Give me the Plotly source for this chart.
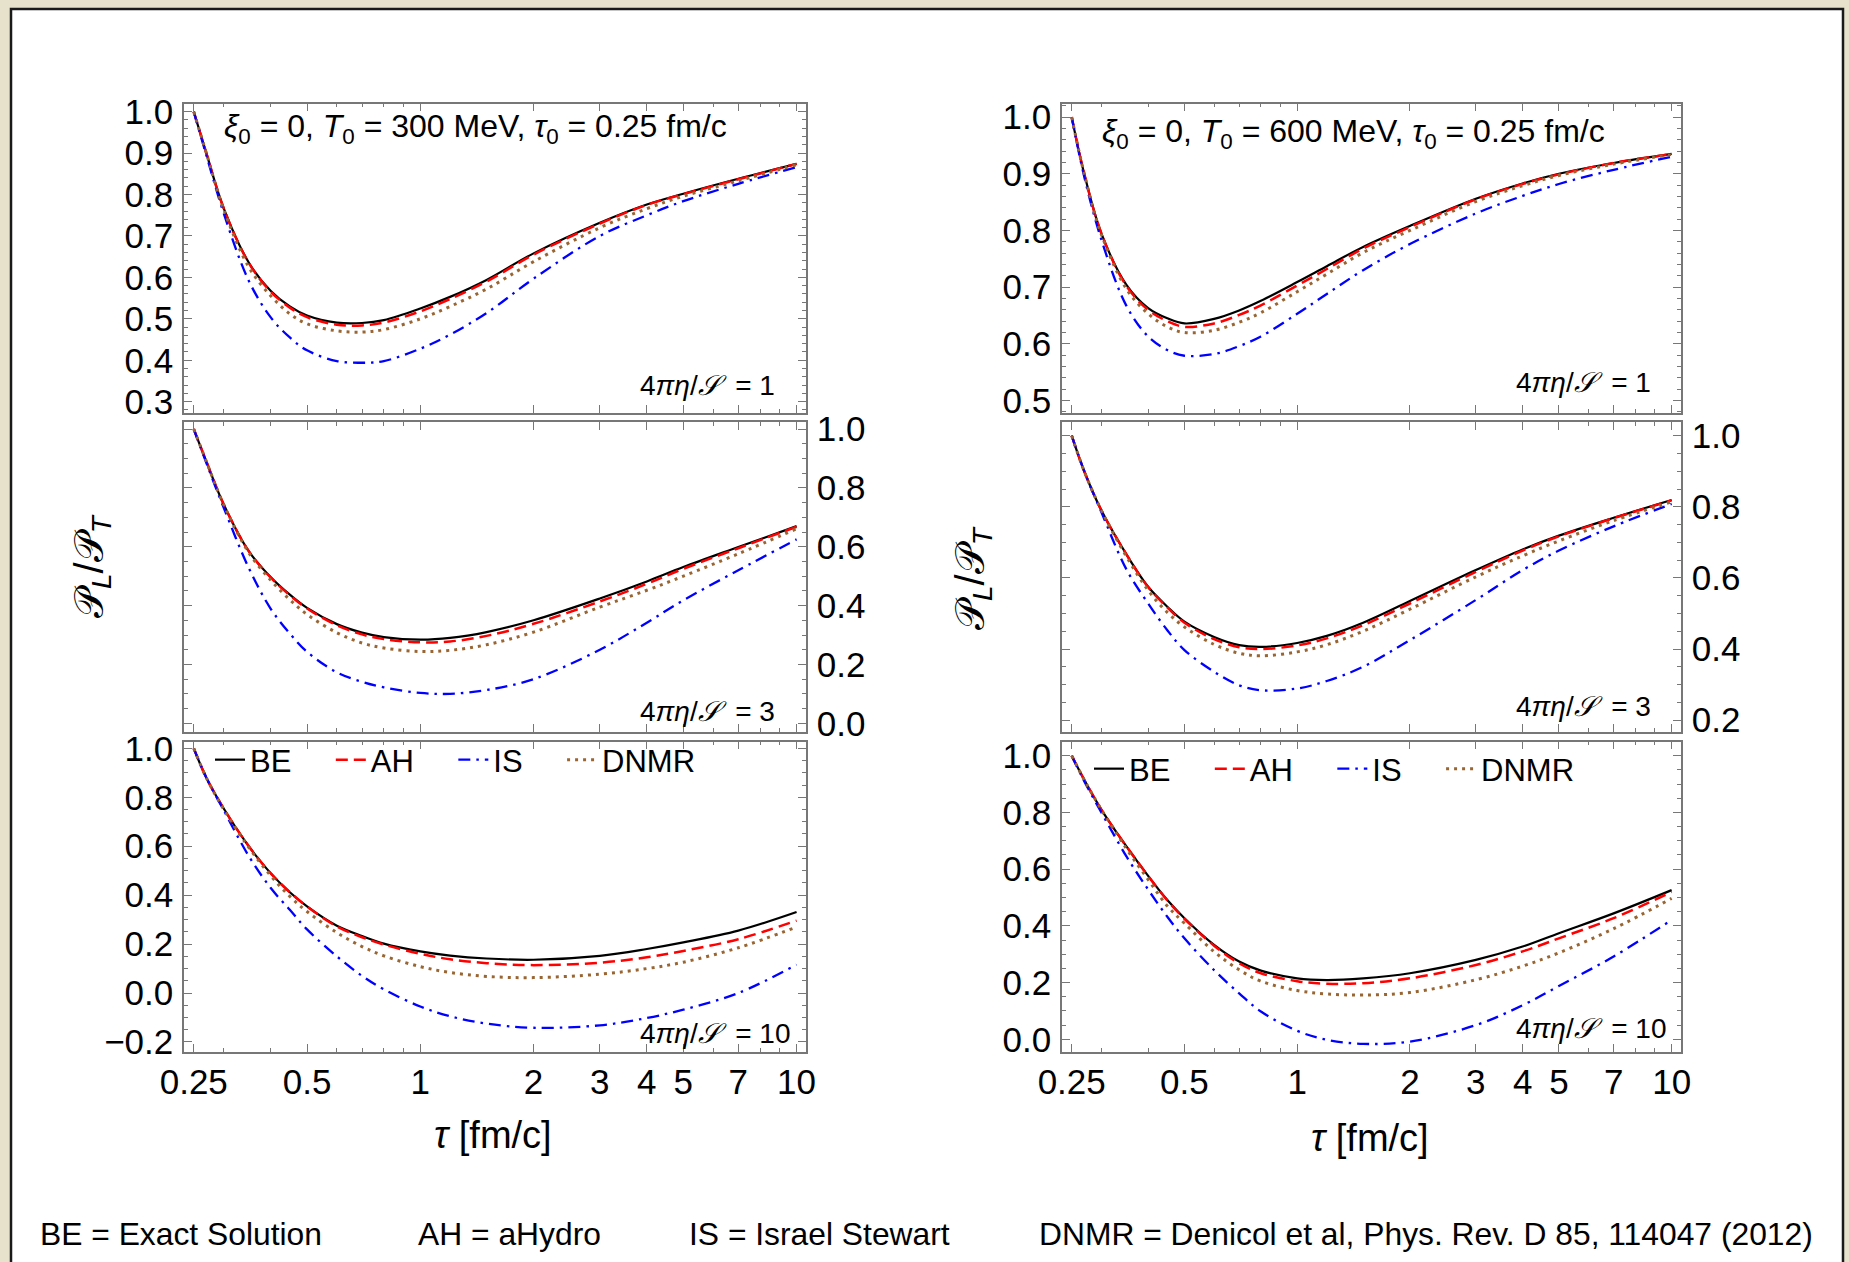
import plotly.graph_objects as go

W, H = 1849, 1262
FONT = "Liberation Sans"

# ---------------- data ----------------
tau = [0.25, 0.27, 0.3, 0.35, 0.4, 0.45, 0.5, 0.6, 0.7, 0.8, 1.0, 1.2, 1.5, 2.0, 3.0, 4.0, 5.0, 7.0, 10.0]

# T0 = 300 MeV, 4 pi eta/S = 1
BE_300_1 = [1.0, 0.90, 0.768, 0.636, 0.568, 0.530, 0.508, 0.491, 0.490, 0.497, 0.525, 0.553, 0.594, 0.658, 0.732, 0.776, 0.802, 0.838, 0.874]
AH_300_1 = [1.0, 0.90, 0.768, 0.635, 0.566, 0.527, 0.504, 0.486, 0.484, 0.491, 0.518, 0.548, 0.590, 0.655, 0.730, 0.775, 0.801, 0.837, 0.874]
IS_300_1 = [1.0, 0.895, 0.756, 0.592, 0.504, 0.455, 0.424, 0.398, 0.394, 0.398, 0.428, 0.462, 0.514, 0.597, 0.700, 0.750, 0.784, 0.826, 0.866]
DN_300_1 = [1.0, 0.90, 0.765, 0.625, 0.556, 0.512, 0.488, 0.471, 0.468, 0.474, 0.500, 0.530, 0.572, 0.638, 0.720, 0.766, 0.796, 0.833, 0.872]

# T0 = 300 MeV, 4 pi eta/S = 3
BE_300_3 = [1.0, 0.89, 0.745, 0.585, 0.497, 0.437, 0.392, 0.337, 0.308, 0.293, 0.284, 0.290, 0.310, 0.350, 0.424, 0.482, 0.531, 0.599, 0.670]
AH_300_3 = [1.0, 0.89, 0.745, 0.585, 0.496, 0.435, 0.390, 0.333, 0.302, 0.286, 0.275, 0.278, 0.297, 0.338, 0.414, 0.474, 0.525, 0.595, 0.668]
IS_300_3 = [1.0, 0.885, 0.734, 0.528, 0.390, 0.305, 0.243, 0.173, 0.141, 0.122, 0.103, 0.100, 0.113, 0.150, 0.250, 0.342, 0.418, 0.520, 0.625]
DN_300_3 = [1.0, 0.89, 0.744, 0.580, 0.487, 0.420, 0.370, 0.308, 0.273, 0.256, 0.244, 0.248, 0.267, 0.310, 0.395, 0.452, 0.500, 0.576, 0.661]

# T0 = 300 MeV, 4 pi eta/S = 10
BE_300_10 = [1.0, 0.88, 0.755, 0.600, 0.490, 0.412, 0.354, 0.275, 0.233, 0.202, 0.170, 0.153, 0.141, 0.136, 0.152, 0.180, 0.207, 0.255, 0.331]
AH_300_10 = [1.0, 0.88, 0.755, 0.600, 0.490, 0.412, 0.354, 0.272, 0.228, 0.198, 0.160, 0.138, 0.122, 0.114, 0.124, 0.146, 0.172, 0.220, 0.296]
IS_300_10 = [1.0, 0.88, 0.748, 0.560, 0.430, 0.340, 0.260, 0.150, 0.070, 0.015, -0.055, -0.095, -0.125, -0.142, -0.132, -0.102, -0.068, 0.0, 0.116]
DN_300_10 = [1.0, 0.88, 0.752, 0.595, 0.480, 0.395, 0.333, 0.247, 0.190, 0.152, 0.108, 0.084, 0.068, 0.063, 0.077, 0.100, 0.126, 0.185, 0.270]

# T0 = 600 MeV, 4 pi eta/S = 1
BE_600_1 = [1.0, 0.90, 0.795, 0.704, 0.663, 0.645, 0.636, 0.644, 0.659, 0.676, 0.709, 0.737, 0.771, 0.808, 0.856, 0.883, 0.900, 0.919, 0.935]
AH_600_1 = [1.0, 0.90, 0.795, 0.702, 0.660, 0.640, 0.630, 0.636, 0.651, 0.668, 0.703, 0.732, 0.768, 0.806, 0.855, 0.882, 0.899, 0.919, 0.935]
IS_600_1 = [1.0, 0.895, 0.784, 0.667, 0.613, 0.589, 0.579, 0.582, 0.596, 0.613, 0.653, 0.688, 0.730, 0.776, 0.830, 0.861, 0.882, 0.907, 0.930]
DN_600_1 = [1.0, 0.90, 0.793, 0.697, 0.653, 0.630, 0.620, 0.624, 0.638, 0.655, 0.692, 0.723, 0.761, 0.800, 0.851, 0.879, 0.897, 0.917, 0.934]

# T0 = 600 MeV, 4 pi eta/S = 3
BE_600_3 = [1.0, 0.90, 0.79, 0.666, 0.575, 0.519, 0.477, 0.434, 0.411, 0.406, 0.417, 0.437, 0.474, 0.535, 0.622, 0.680, 0.719, 0.769, 0.819]
AH_600_3 = [1.0, 0.90, 0.79, 0.666, 0.574, 0.517, 0.474, 0.428, 0.405, 0.400, 0.410, 0.430, 0.467, 0.528, 0.617, 0.677, 0.717, 0.768, 0.818]
IS_600_3 = [1.0, 0.90, 0.785, 0.624, 0.528, 0.453, 0.397, 0.336, 0.298, 0.284, 0.289, 0.310, 0.350, 0.425, 0.538, 0.622, 0.677, 0.745, 0.808]
DN_600_3 = [1.0, 0.90, 0.79, 0.660, 0.565, 0.503, 0.462, 0.413, 0.388, 0.381, 0.392, 0.412, 0.450, 0.512, 0.603, 0.662, 0.704, 0.761, 0.814]

# T0 = 600 MeV, 4 pi eta/S = 10
BE_600_10 = [1.0, 0.915, 0.81, 0.680, 0.576, 0.491, 0.427, 0.333, 0.274, 0.242, 0.215, 0.209, 0.215, 0.233, 0.280, 0.327, 0.374, 0.444, 0.526]
AH_600_10 = [1.0, 0.915, 0.81, 0.680, 0.576, 0.490, 0.425, 0.330, 0.268, 0.233, 0.205, 0.196, 0.198, 0.215, 0.262, 0.310, 0.356, 0.427, 0.520]
IS_600_10 = [1.0, 0.91, 0.800, 0.645, 0.528, 0.432, 0.356, 0.244, 0.162, 0.098, 0.030, -0.002, -0.016, -0.008, 0.050, 0.120, 0.188, 0.292, 0.421]
DN_600_10 = [1.0, 0.915, 0.81, 0.672, 0.563, 0.470, 0.409, 0.309, 0.245, 0.205, 0.172, 0.160, 0.156, 0.165, 0.210, 0.258, 0.305, 0.390, 0.497]

series_names = ["BE", "AH", "IS", "DNMR"]
legend_labels = ["BE\u00a0\u00a0\u00a0\u00a0", "AH\u00a0\u00a0\u00a0\u00a0", "IS\u00a0\u00a0\u00a0\u00a0", "DNMR"]
x_major = [0.25, 0.5, 1, 2, 3, 4, 5, 7, 10]
x_major_text = ["0.25", "0.5", "1", "2", "3", "4", "5", "7", "10"]
x_minor = [0.3, 0.4, 0.6, 0.7, 0.8, 0.9, 6, 8, 9]

# panel grid: (column, row) -> series
panels = [
    (0, 0, [BE_300_1, AH_300_1, IS_300_1, DN_300_1], "1"),
    (0, 1, [BE_300_3, AH_300_3, IS_300_3, DN_300_3], "3"),
    (0, 2, [BE_300_10, AH_300_10, IS_300_10, DN_300_10], "10"),
    (1, 0, [BE_600_1, AH_600_1, IS_600_1, DN_600_1], "1"),
    (1, 1, [BE_600_3, AH_600_3, IS_600_3, DN_600_3], "3"),
    (1, 2, [BE_600_10, AH_600_10, IS_600_10, DN_600_10], "10"),
]

y_ranges = {
    (0, 0): [0.2727, 1.0198], (0, 1): [-0.028, 1.024], (0, 2): [-0.239, 1.028],
    (1, 0): [0.478, 1.024], (1, 1): [0.168, 1.0385], (1, 2): [-0.043, 1.05],
}

# ---------------- styling ----------------
styles = {
    "BE": dict(color="#000000", dash="solid", width=2.2),
    "AH": dict(color="#FF0000", dash="12px,6px", width=2.5),
    "IS": dict(color="#0000FF", dash="12px,6px,2.5px,6px", width=2.3),
    "DNMR": dict(color="#996633", dash="3px,5px", width=3.0),
}

col_px = [(184, 806), (1062, 1681)]
row_px = [(103.5, 413), (422, 731.5), (741.5, 1051.5)]
FRAME = "#777777"


def px_x(p):
    return p / W


def px_y(p):
    return 1 - p / H


fig = go.Figure()
layout = dict()

for i, (c, r, ys, eta) in enumerate(panels):
    n = i + 1
    xa = "x" if n == 1 else f"x{n}"
    ya = "y" if n == 1 else f"y{n}"
    legend_name = None
    if r == 2:
        legend_name = "legend" if c == 0 else "legend2"
    for name, lab, yv in zip(series_names, legend_labels, ys):
        st = styles[name]
        fig.add_trace(go.Scatter(
            x=tau, y=yv, mode="lines", name=lab,
            line=dict(color=st["color"], dash=st["dash"], width=st["width"],
                      shape="spline", smoothing=1.0),
            xaxis=xa, yaxis=ya,
            showlegend=legend_name is not None,
            legend=legend_name if legend_name else "legend",
            hoverinfo="skip",
        ))
    x0, x1 = col_px[c]
    y0, y1 = row_px[r]
    major = 0.1 if r == 0 else 0.2
    minor = 0.02 if r == 0 else 0.05
    layout["xaxis" if n == 1 else f"xaxis{n}"] = dict(
        type="log", range=[-0.628, 1.025], domain=[px_x(x0), px_x(x1)],
        anchor=ya, tickmode="array", tickvals=x_major, ticktext=x_major_text,
        showticklabels=(r == 2), ticks="inside", ticklen=8, tickwidth=1.2,
        tickcolor=FRAME, mirror="allticks", showline=True, linecolor=FRAME,
        linewidth=1.5, showgrid=False, zeroline=False, automargin=False,
        tickfont=dict(family=FONT, size=35, color="black"),
        ticklabelstandoff=-1,
        minor=dict(tickmode="array", tickvals=x_minor, ticks="inside", ticklen=4,
                   tickwidth=1.0, tickcolor=FRAME, showgrid=False),
    )
    layout["yaxis" if n == 1 else f"yaxis{n}"] = dict(
        range=y_ranges[(c, r)], domain=[px_y(y1), px_y(y0)], anchor=xa,
        side="right" if r == 1 else "left",
        tick0=0, dtick=major, tickformat=".1f",
        ticks="inside", ticklen=8, tickwidth=1.2, tickcolor=FRAME,
        mirror="allticks", showline=True, linecolor=FRAME, linewidth=1.5,
        showgrid=False, zeroline=False, automargin=False,
        tickfont=dict(family=FONT, size=35, color="black"),
        ticklabelstandoff=2,
        minor=dict(tick0=0, dtick=minor, ticks="inside", ticklen=4, tickwidth=1.0,
                   tickcolor=FRAME, showgrid=False),
    )

annotations = []


def ann(text, x, y, size, xanchor="left", yanchor="middle", angle=0):
    annotations.append(dict(
        text=text, x=px_x(x), y=px_y(y), xref="paper", yref="paper",
        xanchor=xanchor, yanchor=yanchor, showarrow=False, textangle=angle,
        font=dict(family=FONT, size=size, color="black"),
    ))


# panel headers
ann("<i>ξ</i><sub>0</sub> = 0, <i>T</i><sub>0</sub> = 300 MeV, <i>τ</i><sub>0</sub> = 0.25 fm/c", 222, 129, 32)
ann("<i>ξ</i><sub>0</sub> = 0, <i>T</i><sub>0</sub> = 600 MeV, <i>τ</i><sub>0</sub> = 0.25 fm/c", 1100, 134, 32)

# viscosity labels
eta_pos = [(638, 386), (638, 712), (638, 1033), (1514, 382), (1514, 707), (1514, 1028)]
for (c, r, ys, eta), (ex, ey) in zip(panels, eta_pos):
    ann(f"4<i>πη</i>/<i>𝒮</i>\u00a0 = {eta}", ex, ey, 28)

# axis titles
ann("<i>τ</i> [fm/c]", 493, 1135, 38, xanchor="center")
ann("<i>τ</i> [fm/c]", 1370, 1138, 38, xanchor="center")
ann("𝒫<sub><i>L</i></sub>/𝒫<sub><i>T</i></sub>", 92, 566, 40, xanchor="center", angle=-90)
ann("𝒫<sub><i>L</i></sub>/𝒫<sub><i>T</i></sub>", 973, 578, 40, xanchor="center", angle=-90)

# footer
footer = [("BE = Exact Solution", 38), ("AH = aHydro", 416), ("IS = Israel Stewart", 687),
          ("DNMR = Denicol et al, Phys. Rev. D 85, 114047 (2012)", 1037)]
for t, fx in footer:
    ann(t, fx, 1234, 31.8)

legend_common = dict(orientation="h", xanchor="left", yanchor="top",
                     bgcolor="rgba(0,0,0,0)", borderwidth=0,
                     font=dict(family=FONT, size=31, color="black"),
                     itemwidth=30, traceorder="normal")

fig.update_layout(
    width=W, height=H,
    margin=dict(l=0, r=0, t=0, b=0, pad=0, autoexpand=False),
    paper_bgcolor="#E6E2CC", plot_bgcolor="white",
    showlegend=True,
    legend=dict(x=px_x(210), y=px_y(733), **legend_common),
    legend2=dict(x=px_x(1089), y=px_y(742), **legend_common),
    annotations=annotations,
    shapes=[dict(type="rect", xref="paper", yref="paper",
                 x0=px_x(11), x1=px_x(1843), y0=-0.02, y1=px_y(9),
                 fillcolor="white", line=dict(color="#1a1a1a", width=2.5),
                 layer="below")],
    **layout,
)

fig.write_html("out.html")
